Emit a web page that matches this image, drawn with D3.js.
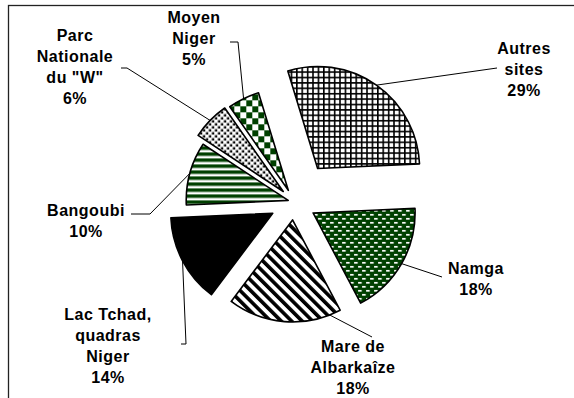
<!DOCTYPE html>
<html>
<head>
<meta charset="utf-8">
<script src="https://cdn.jsdelivr.net/npm/d3@7/dist/d3.min.js"></script>
<style>
  html, body { margin: 0; padding: 0; background: #fff; }
  svg { display: block; }
  .lbl { font-family: "Liberation Sans", Arial, sans-serif; font-weight: bold; font-size: 16px; letter-spacing: 0.5px; fill: #000; }
</style>
</head>
<body>
<svg id="chart" width="574" height="398"></svg>
<script>
// Sites and their share of the total (percent)
const sites = ["Autres sites", "Namga", "Mare de Albarkaîze", "Lac Tchad, quadras Niger",
               "Bangoubi", "Parc Nationale du \"W\"", "Moyen Niger"];
const shares = [29, 18, 18, 14, 10, 6, 5];
const labelLines = [["Autres", "sites"], ["Namga"], ["Mare de", "Albarkaîze"],
                    ["Lac Tchad,", "quadras", "Niger"], ["Bangoubi"],
                    ["Parc", "Nationale", "du \"W\""], ["Moyen", "Niger"]];

// Layout: pie centre, radius, how far each slice is pulled out
const cx = 294, cy = 202, radius = 102;
const startDeg = -17;
const explode = [41, 22, 18, 24, 6, 15, 13];
// label block: centre x, first baseline; leader elbow points; where on the arc the leader meets
const labelPos = [
  { x: 524, y: 54, leader: [[497, 68]], at: 0.5 },
  { x: 476, y: 274, leader: [[442, 277]], at: 0.5 },
  { x: 353, y: 352, leader: [[372, 337]], at: 0.1 },
  { x: 108, y: 320, leader: [[186, 344], [181, 344]], at: 0.5 },
  { x: 86, y: 216, leader: [[150, 214], [131, 214]], at: 0.5 },
  { x: 75, y: 41, leader: [[127, 68], [121, 68]], at: 0.5 },
  { x: 194, y: 23, leader: [[238, 42], [230, 42]], at: 0.5 }
];
const lineGap = 21;
const fills = ["url(#grid)", "url(#dash)", "url(#diag)", "#000", "url(#hstripe)", "url(#dots)", "url(#check)"];

const svg = d3.select("#chart");
const green = "#004000";
const defs = svg.append("defs");

// large grid
const pg = defs.append("pattern").attr("id", "grid").attr("patternUnits", "userSpaceOnUse")
  .attr("width", 5.4).attr("height", 5.4);
pg.append("rect").attr("width", 5.4).attr("height", 5.4).attr("fill", "#000");
pg.append("rect").attr("x", 1.6).attr("y", 1.6).attr("width", 3.8).attr("height", 3.8).attr("fill", "#fff");

// green with white dashes
const pd = defs.append("pattern").attr("id", "dash").attr("patternUnits", "userSpaceOnUse")
  .attr("width", 8).attr("height", 8);
pd.append("rect").attr("width", 8).attr("height", 8).attr("fill", green);
pd.append("rect").attr("x", 1).attr("y", 1).attr("width", 3.6).attr("height", 1.7).attr("fill", "#fff");
pd.append("rect").attr("x", 5).attr("y", 5).attr("width", 3.6).attr("height", 1.7).attr("fill", "#fff");
pd.append("rect").attr("x", -3).attr("y", 5).attr("width", 3.6).attr("height", 1.7).attr("fill", "#fff");

// wide downward diagonal stripes
const pdi = defs.append("pattern").attr("id", "diag").attr("patternUnits", "userSpaceOnUse")
  .attr("width", 7.4).attr("height", 7.4).attr("patternTransform", "rotate(-45)");
pdi.append("rect").attr("width", 7.4).attr("height", 7.4).attr("fill", "#fff");
pdi.append("rect").attr("width", 3.6).attr("height", 7.4).attr("fill", "#000");

// green horizontal stripes
const ph = defs.append("pattern").attr("id", "hstripe").attr("patternUnits", "userSpaceOnUse")
  .attr("width", 6).attr("height", 6);
ph.append("rect").attr("width", 6).attr("height", 6).attr("fill", "#fff");
ph.append("rect").attr("width", 6).attr("height", 3.5).attr("fill", green);

// black dots on white
const pdo = defs.append("pattern").attr("id", "dots").attr("patternUnits", "userSpaceOnUse")
  .attr("width", 6).attr("height", 6);
pdo.append("rect").attr("width", 6).attr("height", 6).attr("fill", "#fff");
pdo.append("rect").attr("x", 0.6).attr("y", 0.6).attr("width", 2.4).attr("height", 2.4).attr("fill", "#000");
pdo.append("rect").attr("x", 3.6).attr("y", 3.6).attr("width", 2.4).attr("height", 2.4).attr("fill", "#000");

// green checkerboard
const pc = defs.append("pattern").attr("id", "check").attr("patternUnits", "userSpaceOnUse")
  .attr("width", 12).attr("height", 12);
pc.append("rect").attr("width", 12).attr("height", 12).attr("fill", "#fff");
pc.append("rect").attr("width", 6).attr("height", 6).attr("fill", green);
pc.append("rect").attr("x", 6).attr("y", 6).attr("width", 6).attr("height", 6).attr("fill", green);

// chart area frame
svg.append("rect").attr("x", 8.5).attr("y", 5.5).attr("width", 600).attr("height", 500)
  .attr("fill", "none").attr("stroke", "#222").attr("stroke-width", 1.3);

const rad = d => d * Math.PI / 180;
const pie = d3.pie().sort(null).value(d => d)
  .startAngle(rad(startDeg)).endAngle(rad(startDeg + 360));
const arcs = pie(shares);
const arcGen = d3.arc().innerRadius(0).outerRadius(radius);
const dir = a => [Math.sin(a), -Math.cos(a)];

const offsets = arcs.map((a, i) => {
  const m = (a.startAngle + a.endAngle) / 2;
  const [ux, uy] = dir(m);
  return [cx + ux * explode[i], cy + uy * explode[i]];
});

svg.append("g").selectAll("path").data(arcs).join("path")
  .attr("transform", (d, i) => `translate(${offsets[i][0]},${offsets[i][1]})`)
  .attr("d", arcGen)
  .attr("fill", (d, i) => fills[i])
  .attr("stroke", "#000").attr("stroke-width", 1.6).attr("stroke-linejoin", "round");

// leader lines
const line = d3.line();
svg.append("g").selectAll("path").data(arcs).join("path")
  .attr("d", (d, i) => {
    const a = d.startAngle + labelPos[i].at * (d.endAngle - d.startAngle);
    const [ux, uy] = dir(a);
    const p0 = [offsets[i][0] + ux * radius, offsets[i][1] + uy * radius];
    return line([p0, ...labelPos[i].leader]);
  })
  .attr("fill", "none").attr("stroke", "#000").attr("stroke-width", 1);

// labels
const fmt = d3.format(".0f");
const lab = svg.append("g").selectAll("text").data(arcs).join("text")
  .attr("class", "lbl").attr("text-anchor", "middle");
lab.each(function (d, i) {
  const t = d3.select(this);
  const rows = [...labelLines[i], fmt(shares[i]) + "%"];
  rows.forEach((r, k) => {
    t.append("tspan").attr("x", labelPos[i].x).attr("y", labelPos[i].y + k * lineGap).text(r);
  });
});
</script>
</body>
</html>
